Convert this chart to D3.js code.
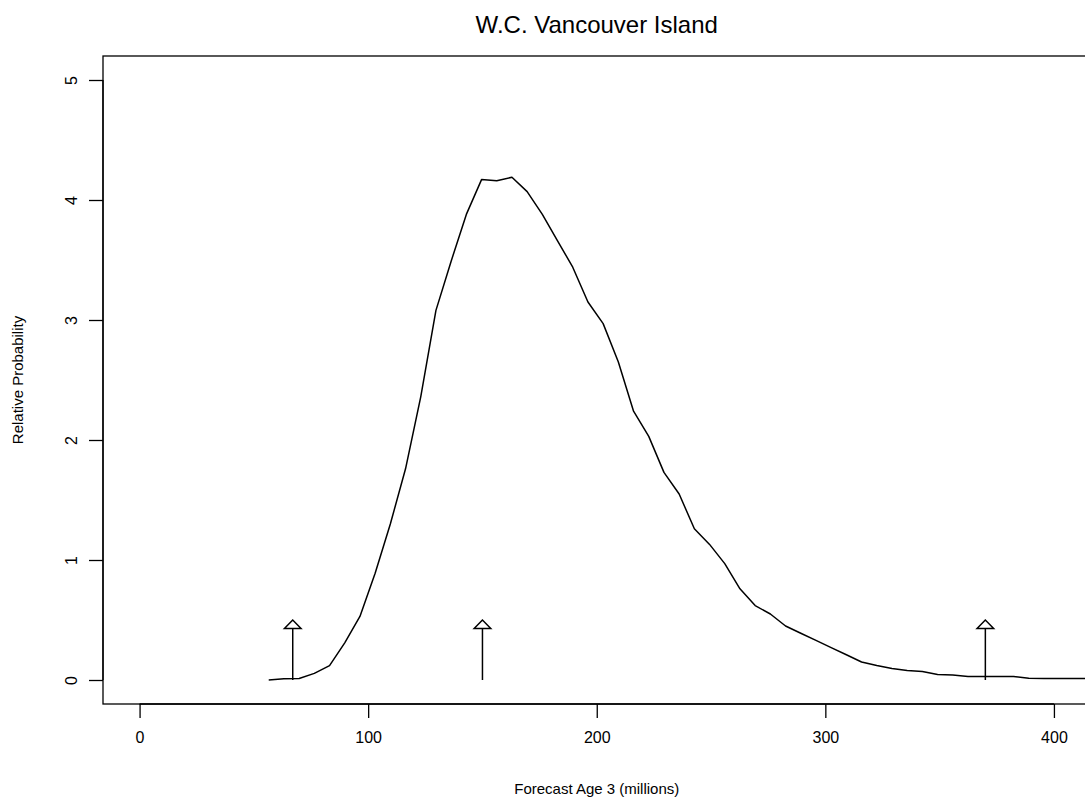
<!DOCTYPE html>
<html>
<head>
<meta charset="utf-8">
<script src="https://cdn.jsdelivr.net/npm/d3@7"></script>
<style>
  html, body { margin: 0; padding: 0; background: #fff; }
  svg { display: block; }
  text { font-family: "Liberation Sans", Arial, sans-serif; fill: #000; }
</style>
</head>
<body>
<svg id="chart" width="1085" height="801"></svg>
<script>
// Forecast abundance (millions) and relative probability of the density curve
const forecast = [56.5, 63.15, 69.8, 76.45, 83.1, 89.75, 96.4, 103.05, 109.7, 116.35,
  123.0, 129.65, 136.3, 142.95, 149.6, 156.25, 162.9, 169.55, 176.2, 182.85,
  189.5, 196.15, 202.8, 209.45, 216.1, 222.75, 229.4, 236.05, 242.7, 249.35,
  256.0, 262.65, 269.3, 275.95, 282.6, 289.25, 295.9, 302.55, 309.2, 315.85,
  322.5, 329.15, 335.8, 342.45, 349.1, 355.75, 362.4, 369.05, 375.7, 382.35,
  389.0, 395.65, 402.3, 408.95, 415.6, 422.25];
const probability = [0.0, 0.01, 0.012, 0.055, 0.12, 0.31, 0.53, 0.89, 1.30, 1.76,
  2.36, 3.08, 3.49, 3.88, 4.17, 4.16, 4.19, 4.07, 3.88, 3.66,
  3.44, 3.15, 2.97, 2.65, 2.24, 2.03, 1.73, 1.55, 1.26, 1.13,
  0.97, 0.76, 0.62, 0.55, 0.45, 0.39, 0.33, 0.27, 0.21, 0.15,
  0.12, 0.095, 0.08, 0.07, 0.045, 0.042, 0.03, 0.03, 0.03, 0.03,
  0.015, 0.012, 0.012, 0.012, 0.012, 0.012];

// Marker arrows (low / mid / high reference values)
const arrowX = [67, 150, 370];
const arrowTop = [0.5, 0.5, 0.5];

const xTicks = [0, 100, 200, 300, 400];
const yTicks = [0, 1, 2, 3, 4, 5];

const titleText = "W.C. Vancouver Island";
const xLabel = "Forecast Age 3 (millions)";
const yLabel = "Relative Probability";

const svg = d3.select("#chart");

// Plot region (axis ranges padded by 4% like base graphics)
const box = { left: 103, right: 1090.5, top: 56, bottom: 704 };
const xDom = [0, 400], yDom = [0, 5];
const xPad = (xDom[1] - xDom[0]) * 0.04, yPad = (yDom[1] - yDom[0]) * 0.04;

const x = d3.scaleLinear().domain([xDom[0] - xPad, xDom[1] + xPad]).range([box.left, box.right]);
const y = d3.scaleLinear().domain([yDom[0] - yPad, yDom[1] + yPad]).range([box.bottom, box.top]);

// Frame
svg.append("rect")
  .attr("x", box.left).attr("y", box.top)
  .attr("width", box.right - box.left).attr("height", box.bottom - box.top)
  .attr("fill", "none").attr("stroke", "#000").attr("stroke-width", 1.3);

// X axis
const xAxis = d3.axisBottom(x).tickValues(xTicks).tickSize(14).tickPadding(14).tickFormat(d3.format("d"));
const gx = svg.append("g").attr("transform", `translate(0,${box.bottom})`).call(xAxis);
gx.select(".domain").attr("d", `M${x(xTicks[0])},0H${x(xTicks[xTicks.length - 1])}`).attr("stroke-width", 1.3);
gx.selectAll(".tick line").attr("stroke-width", 1.3);
gx.selectAll("text").style("font-size", "16px").attr("font-family", null);

// Y axis with rotated labels
const yAxis = d3.axisLeft(y).tickValues(yTicks).tickSize(14).tickFormat(d3.format("d"));
const gy = svg.append("g").attr("transform", `translate(${box.left},0)`).call(yAxis);
gy.select(".domain").attr("d", `M0,${y(yTicks[0])}V${y(yTicks[yTicks.length - 1])}`).attr("stroke-width", 1.3);
gy.selectAll(".tick line").attr("stroke-width", 1.3);
gy.selectAll("text")
  .attr("x", null).attr("dy", null)
  .attr("transform", "translate(-32,0) rotate(-90)")
  .attr("text-anchor", "middle")
  .attr("dominant-baseline", "central")
  .style("font-size", "16px").attr("font-family", null);

// Density curve
const line = d3.line().x((d, i) => x(forecast[i])).y(d => y(d));
svg.append("path")
  .datum(probability)
  .attr("d", line)
  .attr("fill", "none").attr("stroke", "#000").attr("stroke-width", 1.5)
  .attr("stroke-linejoin", "round");

// Arrows with open heads
const headH = 8.5, headW = 8.3;
arrowX.forEach((v, i) => {
  const px = x(v), y0 = y(0), y1 = y(arrowTop[i]);
  svg.append("line")
    .attr("x1", px).attr("x2", px).attr("y1", y0).attr("y2", y1 + headH)
    .attr("stroke", "#000").attr("stroke-width", 1.5);
  svg.append("path")
    .attr("d", `M${px},${y1}L${px - headW},${y1 + headH}L${px + headW},${y1 + headH}Z`)
    .attr("fill", "#fff").attr("stroke", "#000").attr("stroke-width", 1.5)
    .attr("stroke-linejoin", "miter");
});

// Titles
svg.append("text")
  .attr("x", (box.left + box.right) / 2).attr("y", 32.5)
  .attr("text-anchor", "middle")
  .style("font-size", "24px")
  .text(titleText);

svg.append("text")
  .attr("x", (box.left + box.right) / 2).attr("y", 794)
  .attr("text-anchor", "middle")
  .style("font-size", "15px")
  .text(xLabel);

svg.append("text")
  .attr("transform", `translate(23,${(box.top + box.bottom) / 2}) rotate(-90)`)
  .attr("text-anchor", "middle")
  .style("font-size", "15px")
  .text(yLabel);
</script>
</body>
</html>
